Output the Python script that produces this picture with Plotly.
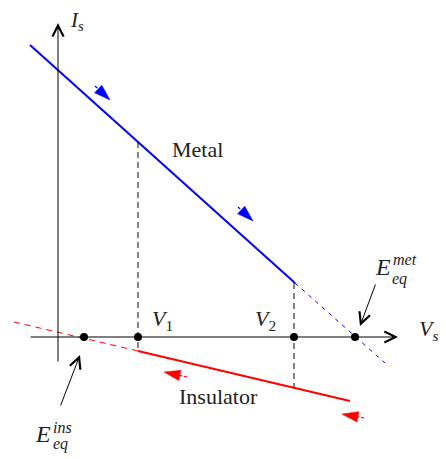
import plotly.graph_objects as go

# diagram coordinates (pixel-like units, y grows downward)
axis_v_x = [58, 58]
axis_v_y = [363, 23]
axis_h_x = [29, 398]
axis_h_y = [337, 337]

metal_x = [30, 295]
metal_y = [45, 283]
metal_ext_x = [295, 385]
metal_ext_y = [283, 363]

ins_x = [138, 350]
ins_y = [351, 401]
ins_ext_x = [14, 138]
ins_ext_y = [322, 351]

dot_x = [84, 138, 294, 355]
dot_y = [337, 337, 337, 337]

guide1_x = [138, 138]
guide1_y = [142, 351]
guide2_x = [294, 294]
guide2_y = [283, 388]

metal_arrows = [([95, 110], [86, 100]), ([238, 253], [207, 221])]
ins_arrows = [([187, 164], [377, 372]), ([364, 342], [418, 414])]

fig = go.Figure()

def seg(x, y, color, width, dash="solid"):
    fig.add_trace(go.Scatter(x=x, y=y, mode="lines",
                             line=dict(color=color, width=width, dash=dash),
                             hoverinfo="skip", showlegend=False))

seg(guide1_x, guide1_y, "#333", 1.2, "6px,4px")
seg(guide2_x, guide2_y, "#333", 1.2, "6px,4px")
seg(metal_x, metal_y, "blue", 2)
seg(metal_ext_x, metal_ext_y, "blue", 1, "4px,5px")
seg(ins_x, ins_y, "red", 2)
seg(ins_ext_x, ins_ext_y, "red", 1, "6px,5px")

for (ax_, ay_), col in [(a, "blue") for a in metal_arrows] + [(a, "red") for a in ins_arrows]:
    fig.add_trace(go.Scatter(x=ax_, y=ay_, mode="lines+markers",
                             line=dict(color=col, width=1.2, dash="3px,2px"),
                             marker=dict(symbol="arrow", size=[0, 17], color=col,
                                         opacity=1, line=dict(width=0.5, color=col),
                                         angleref="previous"),
                             hoverinfo="skip", showlegend=False))

fig.add_trace(go.Scatter(x=dot_x, y=dot_y, mode="markers",
                         marker=dict(color="black", size=8),
                         hoverinfo="skip", showlegend=False))

# axes with open arrowheads
for x0, y0, x1, y1 in [(axis_v_x[0], axis_v_y[0], axis_v_x[1], axis_v_y[1]),
                       (axis_h_x[0], axis_h_y[0], axis_h_x[1], axis_h_y[1])]:
    fig.add_annotation(x=x1, y=y1, ax=x0, ay=y0, xref="x", yref="y",
                       axref="x", ayref="y", text="", showarrow=True,
                       arrowhead=5, arrowsize=2.2, arrowwidth=1, arrowcolor="black")

# pointer arrows to equilibrium points
fig.add_annotation(x=360, y=326, ax=376, ay=283, xref="x", yref="y",
                   axref="x", ayref="y", text="", showarrow=True,
                   arrowhead=5, arrowsize=2.2, arrowwidth=1, arrowcolor="black")
fig.add_annotation(x=80, y=355, ax=60, ay=407, xref="x", yref="y",
                   axref="x", ayref="y", text="", showarrow=True,
                   arrowhead=5, arrowsize=2.2, arrowwidth=1, arrowcolor="black")

font = "Liberation Serif"
def label(x, y, text, size=22, xanchor="center"):
    fig.add_annotation(x=x, y=y, text=text, showarrow=False, xanchor=xanchor,
                       font=dict(family=font, size=size, color="#222"))

label(77, 21, "<i>I</i><sub><i>s</i></sub>", 21)
label(428, 330, "<i>V</i><sub><i>s</i></sub>")
label(162, 320, "<i>V</i><sub>1</sub>")
label(265, 320, "<i>V</i><sub>2</sub>")
label(197, 149, "Metal")
label(218, 396, "Insulator")

label(383, 267, "<i>E</i>", 24)
label(391, 259, "<i>met</i>", 16, "left")
label(390, 279, "<i>eq</i>", 16, "left")
label(43, 434, "<i>E</i>", 24)
label(51, 427, "<i>ins</i>", 16, "left")
label(51, 444, "<i>eq</i>", 16, "left")

# the page body adds an 8px margin, so the figure is shrunk by 8px and
# the ranges start at 8 so that diagram units line up with window pixels
fig.update_xaxes(range=[8, 446], visible=False)
fig.update_yaxes(range=[459, 8], visible=False)
fig.update_layout(width=438, height=451, margin=dict(l=0, r=0, t=0, b=0),
                  plot_bgcolor="white", paper_bgcolor="white")

fig.write_html("out.html")
